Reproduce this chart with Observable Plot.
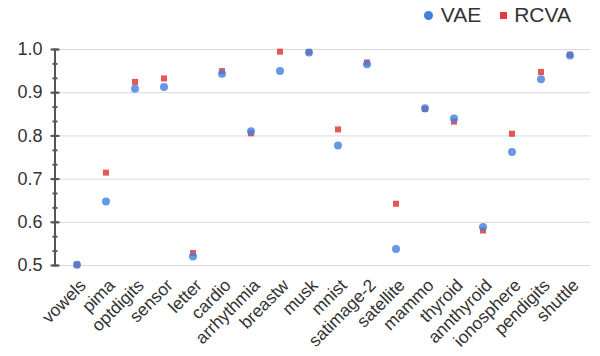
<!DOCTYPE html>
<html>
<head>
<meta charset="utf-8">
<script src="https://cdn.jsdelivr.net/npm/d3@7"></script>
<script src="https://cdn.jsdelivr.net/npm/@observablehq/plot@0.6"></script>
<style>
  body { margin: 0; background: #fff; }
  #wrap { position: relative; width: 600px; height: 356px; font-family: "Liberation Sans", Arial, sans-serif; }
  #legend { position: absolute; top: 2px; right: 29px; display: flex; align-items: center; font-size: 21px; line-height: 26px; color: #333; }
</style>
</head>
<body>
<div id="wrap">
  <div id="legend"></div>
</div>
<script>
const datasets = ["vowels","pima","optdigits","sensor","letter","cardio","arrhythmia","breastw","musk","mnist","satimage-2","satellite","mammo","thyroid","annthyroid","ionosphere","pendigits","shuttle"];
const vae  = [0.502,0.648,0.909,0.913,0.521,0.944,0.811,0.950,0.993,0.778,0.966,0.538,0.864,0.840,0.589,0.763,0.931,0.986];
const rcva = [0.502,0.715,0.925,0.933,0.529,0.950,0.806,0.995,0.994,0.815,0.970,0.643,0.862,0.833,0.581,0.805,0.948,0.988];
const seriesNames = ["VAE","RCVA"];
const seriesColors = ["#3f7fe0","#e23b3b"];
const majorTicks = [0.5,0.6,0.7,0.8,0.9,1.0];
const minorTicks = d3.range(0,16).map(i => 0.5 + i/30);

const rows = datasets.flatMap((d,i) => [
  {dataset: d, series: "RCVA", value: rcva[i]},
  {dataset: d, series: "VAE", value: vae[i]}
]);

const plot = Plot.plot({
  width: 600,
  height: 356,
  marginTop: 49,
  marginBottom: 91,
  marginLeft: 55,
  marginRight: 10,
  style: {fontFamily: "Liberation Sans, Arial, sans-serif", color: "#333", background: "#fff"},
  x: {type: "band", domain: datasets, padding: 0, label: null},
  y: {domain: [0.5, 1.0], label: null},
  marks: [
    Plot.gridY(majorTicks, {stroke: "#d9d9d9", strokeOpacity: 1}),
    Plot.axisY(minorTicks, {tickSize: 5, dx: 2.5, text: null, stroke: "#555", strokeWidth: 2, strokeOpacity: 1}),
    Plot.axisY(majorTicks, {tickSize: 9, dx: 4.5, text: null, stroke: "#555", strokeWidth: 2, strokeOpacity: 1}),
    Plot.axisY(majorTicks, {tickSize: 0, tickPadding: 13, tickFormat: d3.format(".1f"), fontSize: 18, fill: "#333", label: null}),
    Plot.axisX({tickSize: 0, tickRotate: -45, fontSize: 17.5, fill: "#333", label: null, tickPadding: 17, dx: 6}),
    Plot.dot(rows.filter(r => r.series === "RCVA"), {x: "dataset", y: "value", symbol: "square", r: 3.4, fill: seriesColors[1], fillOpacity: 0.85}),
    Plot.dot(rows.filter(r => r.series === "VAE"), {x: "dataset", y: "value", symbol: "circle", r: 4, fill: seriesColors[0], fillOpacity: 0.8})
  ]
});
document.getElementById("wrap").appendChild(plot);

// y axis line, positioned with the plot's own y scale
const y = plot.scale("y");
d3.select(plot).append("line")
  .attr("x1", 55).attr("x2", 55).attr("y1", y.apply(1.0)).attr("y2", y.apply(0.5))
  .attr("stroke", "#555").attr("stroke-width", 2);

const legend = document.getElementById("legend");
seriesNames.forEach((n, i) => {
  const item = document.createElement("span");
  item.style.display = "inline-flex";
  item.style.alignItems = "center";
  item.style.marginLeft = i ? "19px" : "0";
  const sw = document.createElement("span");
  sw.style.display = "inline-block";
  sw.style.marginRight = i ? "7px" : "8px";
  sw.style.width = i ? "7px" : "9px";
  sw.style.height = i ? "7px" : "9px";
  sw.style.borderRadius = i ? "0" : "50%";
  sw.style.background = seriesColors[i];
  item.appendChild(sw);
  item.appendChild(document.createTextNode(n));
  legend.appendChild(item);
});
</script>
</body>
</html>
